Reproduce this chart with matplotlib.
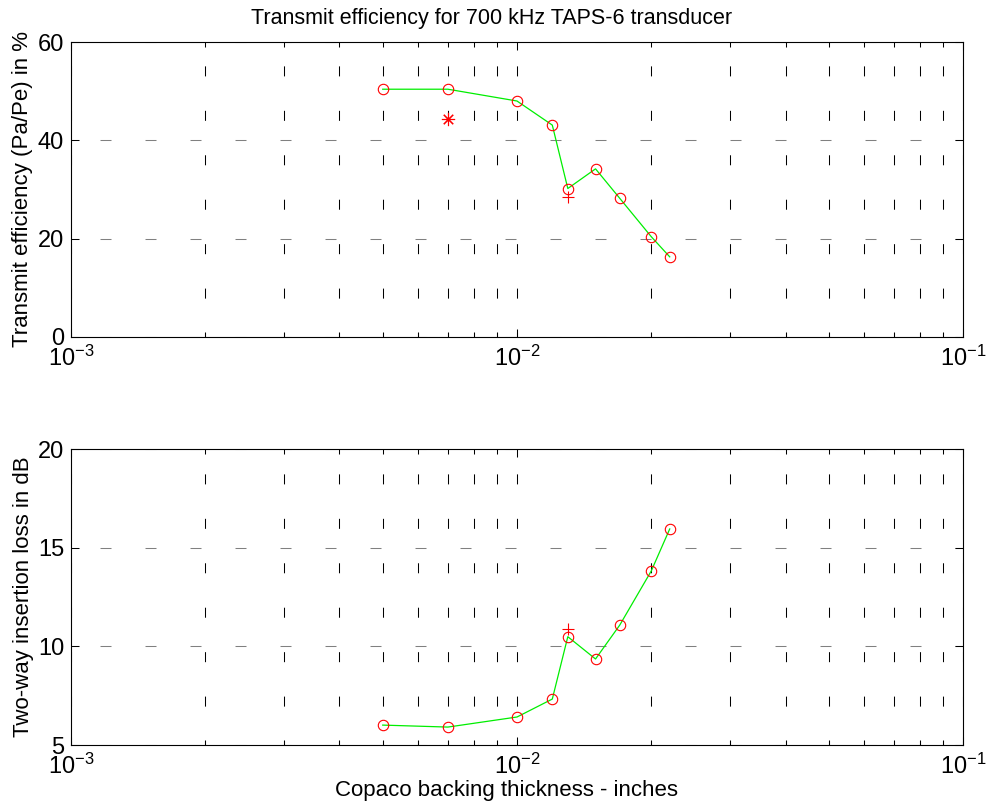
import matplotlib
matplotlib.use('Agg')
import matplotlib.pyplot as plt

plt.rcParams['font.family'] = ['Liberation Sans', 'DejaVu Sans']
plt.rcParams['mathtext.fontset'] = 'custom'
plt.rcParams['mathtext.rm'] = 'Liberation Sans'
plt.rcParams['mathtext.it'] = 'Liberation Sans:italic'
plt.rcParams['mathtext.bf'] = 'Liberation Sans:bold'
plt.rcParams['lines.scale_dashes'] = False

# backing thickness (inches)
thickness = [0.005, 0.007, 0.010, 0.012, 0.013, 0.015, 0.017, 0.020, 0.022]
# transmit efficiency (%)
efficiency = [50.4, 50.4, 48.0, 43.1, 30.2, 34.2, 28.2, 20.4, 16.3]
# two-way insertion loss (dB)
loss = [6.01, 5.91, 6.42, 7.33, 10.49, 9.36, 11.08, 13.82, 15.95]

# extra single points
star_x, star_eff = [0.007], [44.3]
plus_x, plus_eff, plus_loss = [0.013], [28.4], [10.86]

title = 'Transmit efficiency for 700 kHz TAPS-6 transducer'
xlabel = 'Copaco backing thickness - inches'
ylabel_top = 'Transmit efficiency (Pa/Pe) in %'
ylabel_bot = 'Two-way insertion loss in dB'

fig = plt.figure(figsize=(9.87, 8.05), dpi=100)
ax1 = fig.add_axes([0.0719, 0.5814, 0.9038, 0.3664])
ax2 = fig.add_axes([0.0719, 0.0745, 0.9038, 0.3677])


def style(ax, ylim, yticks):
    ax.set_xscale('log')
    ax.set_xlim(1e-3, 1e-1)
    ax.set_ylim(*ylim)
    ax.set_yticks(yticks)
    ax.tick_params(axis='both', which='both', direction='in', top=True, right=True,
                   labelsize=17, width=0.75)
    ax.tick_params(axis='y', which='major', length=5.8, pad=5)
    ax.tick_params(axis='x', which='major', length=5.5, pad=6)
    ax.tick_params(axis='x', which='minor', length=3.3)
    ax.tick_params(axis='y', which='minor', left=False, right=False)
    for s in ax.spines.values():
        s.set_linewidth(0.8)
    ax.xaxis.grid(True, which='both', color='black', lw=0.75,
                  linestyle=(4, (7.2, 24.8)))
    ax.yaxis.grid(True, which='major', color='0.5', lw=0.75,
                  linestyle=(11.5, (7.9, 24.5)))
    ax.set_axisbelow(True)


style(ax1, (0, 60), [0, 20, 40, 60])
style(ax2, (5, 20), [5, 10, 15, 20])

ax1.plot(thickness, efficiency, color='#00ee00', lw=0.9, zorder=3)
ax1.plot(thickness, efficiency, 'o', mfc='none', mec='red', ms=7.5, mew=0.8, zorder=4)
ax1.plot(star_x, star_eff, marker=(8, 2, 0), color='red', ms=9.5, mew=0.8,
         ls='none', zorder=4)
ax1.plot(plus_x, plus_eff, marker='+', color='red', ms=9, mew=0.8, ls='none', zorder=4)

ax2.plot(thickness, loss, color='#00ee00', lw=0.9, zorder=3)
ax2.plot(thickness, loss, 'o', mfc='none', mec='red', ms=7.5, mew=0.8, zorder=4)
ax2.plot(plus_x, plus_loss, marker='+', color='red', ms=9, mew=0.8, ls='none', zorder=4)

ax1.set_title(title, fontsize=15.5, pad=13, x=0.472)
ax1.set_ylabel(ylabel_top, fontsize=16, labelpad=3)
ax2.set_ylabel(ylabel_bot, fontsize=16, labelpad=3)
ax2.set_xlabel(xlabel, fontsize=16, labelpad=1, x=0.488)

fig.savefig('out.png', dpi=100)
